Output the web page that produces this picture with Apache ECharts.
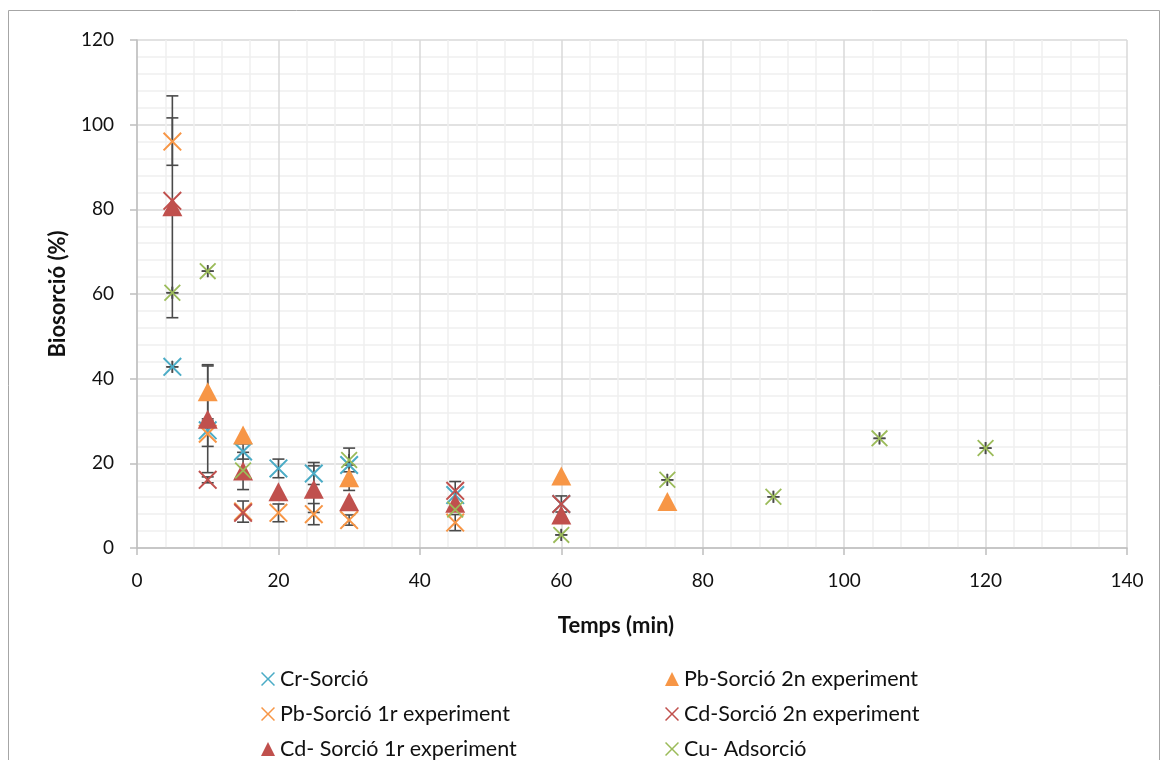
<!DOCTYPE html>
<html>
<head>
<meta charset="utf-8">
<script src="https://cdn.jsdelivr.net/npm/echarts@6/dist/echarts.min.js"></script>
<style>
html,body{margin:0;padding:0;background:#fff;}
#chart{width:1163px;height:760px;}
</style>
</head>
<body>
<div id="chart"></div>
<script>
// ---- Data ----
const xTitle = 'Temps (min)';
const yTitle = 'Biosorció (%)';

const crName = 'Cr-Sorció';
const crX = [5, 10, 15, 20, 25, 30, 45, 60];
const crY = [42.8, 27.8, 22.8, 18.8, 17.6, 19.6, 12.5, 10.4];
const crYErr = [0, null, 1.8, 2.2, 2.6, null, 3.2, 1.9];
const crXErr = [0, null, null, null, null, null, null, null];

const pb2Name = 'Pb-Sorció 2n experiment';
const pb2X = [10, 15, 30, 60, 75];
const pb2Y = [36.9, 26.7, 16.6, 17.0, 11.0];
const pb2YErr = [6.4, null, 3.0, null, null];

const pb1Name = 'Pb-Sorció 1r experiment';
const pb1X = [5, 10, 15, 20, 25, 30, 45];
const pb1Y = [96.0, 27.0, 8.6, 8.3, 8.0, 6.6, 6.0];
const pb1YErr = [5.6, 3.0, 2.5, 2.1, 2.5, 1.2, 1.9];

const cd2Name = 'Cd-Sorció 2n experiment';
const cd2X = [5, 10, 15, 45, 60];
const cd2Y = [82.0, 16.1, 8.3, 13.5, 10.4];
const cd2YErr = [null, 0.7, null, null, null];

const cd1Name = 'Cd- Sorció 1r experiment';
const cd1X = [5, 10, 15, 20, 25, 30, 45, 60];
const cd1Y = [80.6, 30.4, 18.2, 13.3, 13.9, 10.9, 10.6, 7.8];
const cd1YErr = [26.2, 12.6, 4.4, null, 5.5, null, null, null];

const cuName = 'Cu- Adsorció';
const cuX = [5, 10, 15, 30, 45, 60, 75, 90, 105, 120];
const cuY = [60.3, 65.4, 18.3, 20.8, 9.1, 3.1, 16.1, 12.1, 25.9, 23.6];
const cuYErr = [0, 0, null, 2.8, null, 0, 0, 0, 0, 0];
const cuXErr = [0, 0, null, 0, null, 0, 0, 0, 0, 0];

const xTicks = [0, 20, 40, 60, 80, 100, 120, 140];
const yTicks = [0, 20, 40, 60, 80, 100, 120];

// legend order (two columns, three rows, as in the reference)
const legendCol1 = [crName, pb1Name, cd1Name];
const legendCol2 = [pb2Name, cd2Name, cuName];

// ---- Styles ----
const FONT = 'Lato';
const C_CR = '#4bacc6', C_PB = '#f79646', C_CD = '#c0504d', C_CU = '#9bbb59';
const ERR_COLOR = '#4a4a4a';
const X_SYMBOL = 'path://M0,1.5L1.5,0L10,8.5L18.5,0L20,1.5L11.5,10L20,18.5L18.5,20L10,11.5L1.5,20L0,18.5L8.5,10Z';

function pts(xs, ys) { return xs.map((x, i) => [x, ys[i]]); }
function errPts(xs, ys, ye, xe) {
  const out = [];
  xs.forEach((x, i) => {
    const a = ye ? ye[i] : null;
    const b = xe ? xe[i] : null;
    if (a == null && b == null) return;
    out.push([x, ys[i], a == null ? -1 : a, b == null ? -1 : b]);
  });
  return out;
}

function errRender(params, api) {
  const x = api.value(0), y = api.value(1), ye = api.value(2), xe = api.value(3);
  const cap = 6;
  const st = { stroke: ERR_COLOR, lineWidth: 1.6 };
  const ch = [];
  if (ye >= 0) {
    const hi = api.coord([x, y + ye]), lo = api.coord([x, y - ye]);
    ch.push({ type: 'line', shape: { x1: hi[0], y1: hi[1], x2: lo[0], y2: lo[1] }, style: st });
    ch.push({ type: 'line', shape: { x1: hi[0] - cap, y1: hi[1], x2: hi[0] + cap, y2: hi[1] }, style: st });
    ch.push({ type: 'line', shape: { x1: lo[0] - cap, y1: lo[1], x2: lo[0] + cap, y2: lo[1] }, style: st });
  }
  if (xe >= 0) {
    const l = api.coord([x - xe, y]), r = api.coord([x + xe, y]);
    ch.push({ type: 'line', shape: { x1: l[0], y1: l[1], x2: r[0], y2: r[1] }, style: st });
    ch.push({ type: 'line', shape: { x1: l[0], y1: l[1] - cap, x2: l[0], y2: l[1] + cap }, style: st });
    ch.push({ type: 'line', shape: { x1: r[0], y1: r[1] - cap, x2: r[0], y2: r[1] + cap }, style: st });
  }
  return { type: 'group', children: ch };
}

function scatter(name, data, color, symbol, size) {
  return {
    name: name, type: 'scatter', data: data,
    symbol: symbol, symbolSize: size,
    itemStyle: { color: color, opacity: 1 },
    emphasis: { disabled: true },
    animation: false
  };
}
function errSeries(data) {
  return {
    type: 'custom', data: data, renderItem: errRender, silent: true,
    dimensions: ['x', 'y', 'ye', 'xe'], encode: { x: 0, y: 1 },
    animation: false
  };
}

const legendRowsTop = [661, 696, 731];
const legendColsLeft = [256, 660];
function oneLegend(name, col, row) {
  return {
    data: [name], left: legendColsLeft[col], top: legendRowsTop[row],
    orient: 'horizontal', itemWidth: 14, itemHeight: 14, selectedMode: false,
    textStyle: { fontFamily: FONT, fontSize: 21.5, color: '#111', lineHeight: 26 }
  };
}
const legends = [];
legendCol1.forEach((n, i) => legends.push(oneLegend(n, 0, i)));
legendCol2.forEach((n, i) => legends.push(oneLegend(n, 1, i)));

const chart = echarts.init(document.getElementById('chart'), null, { renderer: 'canvas' });

chart.setOption({
  backgroundColor: '#fff',
  animation: false,
  graphic: [{
    type: 'rect', silent: true, z: -10,
    shape: { x: 8.5, y: 10.5, width: 1151, height: 800 },
    style: { fill: 'none', stroke: '#a6a6a6', lineWidth: 1 }
  }],
  grid: { left: 137, right: 36, top: 40, bottom: 212 },
  legend: legends,
  xAxis: {
    type: 'value', min: xTicks[0], max: xTicks[xTicks.length - 1], interval: 20,
    name: xTitle, nameLocation: 'middle', nameGap: 67,
    nameTextStyle: { fontFamily: FONT, fontSize: 22, fontWeight: 'bold', color: '#111', padding: [0, 32, 0, 0] },
    axisLine: { show: true, onZero: false, lineStyle: { color: '#bfbfbf', width: 1.5 } },
    axisTick: { show: true, length: 7, lineStyle: { color: '#bfbfbf', width: 1.5 } },
    axisLabel: { fontFamily: FONT, fontSize: 19, color: '#111', margin: 23 },
    splitLine: { show: true, lineStyle: { color: '#d9d9d9', width: 1.5 } },
    minorTick: { show: false, splitNumber: 5 },
    minorSplitLine: { show: true, lineStyle: { color: '#efefef', width: 1.5 } }
  },
  yAxis: {
    type: 'value', min: yTicks[0], max: yTicks[yTicks.length - 1], interval: 20,
    name: yTitle, nameLocation: 'middle', nameGap: 68, nameRotate: 90,
    nameTextStyle: { fontFamily: FONT, fontSize: 22, fontWeight: 'bold', color: '#111' },
    axisLine: { show: true, onZero: false, lineStyle: { color: '#bfbfbf', width: 1.5 } },
    axisTick: { show: true, length: 7, lineStyle: { color: '#bfbfbf', width: 1.5 } },
    axisLabel: { fontFamily: FONT, fontSize: 19, color: '#111', margin: 23 },
    splitLine: { show: true, lineStyle: { color: '#d9d9d9', width: 1.5 } },
    minorTick: { show: false, splitNumber: 5 },
    minorSplitLine: { show: true, lineStyle: { color: '#efefef', width: 1.5 } }
  },
  series: [
    scatter(crName, pts(crX, crY), C_CR, X_SYMBOL, 19),
    errSeries(errPts(crX, crY, crYErr, crXErr)),
    scatter(pb2Name, pts(pb2X, pb2Y), C_PB, 'triangle', [20, 19]),
    errSeries(errPts(pb2X, pb2Y, pb2YErr, null)),
    scatter(pb1Name, pts(pb1X, pb1Y), C_PB, X_SYMBOL, 19),
    errSeries(errPts(pb1X, pb1Y, pb1YErr, null)),
    scatter(cd2Name, pts(cd2X, cd2Y), C_CD, X_SYMBOL, 19),
    errSeries(errPts(cd2X, cd2Y, cd2YErr, null)),
    scatter(cd1Name, pts(cd1X, cd1Y), C_CD, 'triangle', [20, 19]),
    errSeries(errPts(cd1X, cd1Y, cd1YErr, null)),
    scatter(cuName, pts(cuX, cuY), C_CU, X_SYMBOL, 17),
    errSeries(errPts(cuX, cuY, cuYErr, cuXErr))
  ]
});
</script>
</body>
</html>
